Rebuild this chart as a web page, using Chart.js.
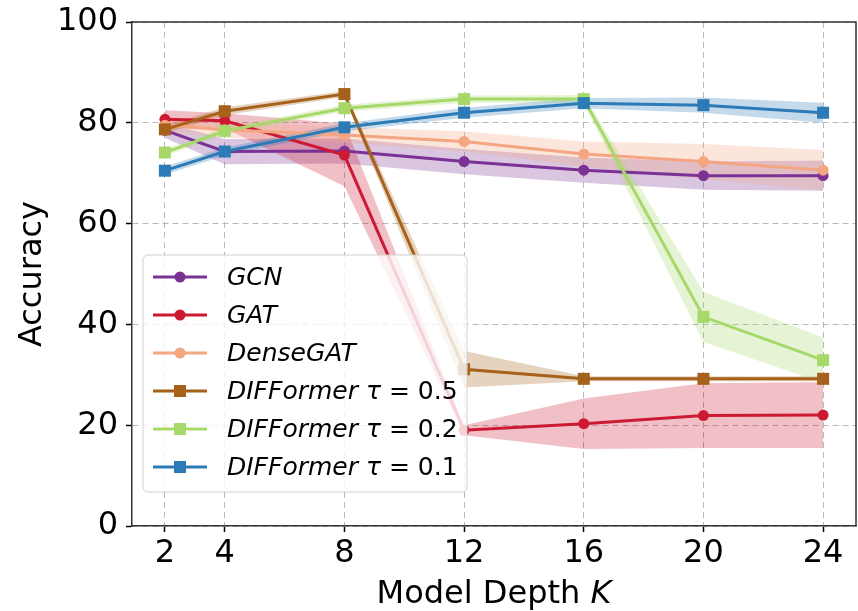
<!DOCTYPE html>
<html>
<head>
<meta charset="utf-8">
<script src="https://cdn.jsdelivr.net/npm/chart.js@4.4.1/dist/chart.umd.min.js"></script>
<style>
  html, body { margin: 0; padding: 0; background: #fff; }
</style>
</head>
<body>
<canvas id="myChart" width="858" height="611"></canvas>
<script>
// data
const depths = [2, 4, 8, 12, 16, 20, 24];
const yTicks = [0, 20, 40, 60, 80, 100];

const gcnMean = [78.5, 74.3, 74.4, 72.3, 70.6, 69.5, 69.5];
const gcnStd = [1.5, 2.5, 2.5, 2.5, 2.5, 2.8, 3.0];

const gatMean = [80.7, 80.4, 73.6, 19.0, 20.3, 21.9, 22.0];
const gatStd = [1.8, 1.5, 6.2, 1.0, 5.0, 6.4, 6.5];

const denseMean = [79.5, 78.6, 77.6, 76.3, 73.8, 72.3, 70.6];
const denseStd = [1.5, 1.5, 1.5, 2.0, 2.5, 3.5, 4.0];

const dif05Mean = [78.7, 82.3, 85.7, 31.1, 29.2, 29.2, 29.2];
const dif05Std = [0.8, 0.8, 0.6, 3.6, 0.5, 0.5, 0.5];

const dif02Mean = [74.1, 78.4, 82.9, 84.7, 84.7, 41.5, 32.9];
const dif02Std = [0.7, 0.7, 0.7, 0.7, 0.8, 5.0, 4.5];

const dif01Mean = [70.5, 74.3, 79.1, 82.0, 83.9, 83.5, 82.0];
const dif01Std = [0.8, 0.8, 0.8, 1.0, 1.0, 1.5, 2.0];

const series = [
    { name: "GCN", mean: gcnMean, std: gcnStd, color: "#7b3294", point: "circle" },
    { name: "GAT", mean: gatMean, std: gatStd, color: "#cc1a33", point: "circle" },
    { name: "DenseGAT", mean: denseMean, std: denseStd, color: "#f4a582", point: "circle" },
    { name: "DIFFormer τ = 0.5", mean: dif05Mean, std: dif05Std, color: "#a6611a", point: "rect" },
    { name: "DIFFormer τ = 0.2", mean: dif02Mean, std: dif02Std, color: "#a6d96a", point: "rect" },
    { name: "DIFFormer τ = 0.1", mean: dif01Mean, std: dif01Std, color: "#2c7bb6", point: "rect" }
];

function withAlpha(hex, a) {
    const n = parseInt(hex.slice(1), 16);
    return "rgba(" + (n >> 16) + "," + ((n >> 8) & 255) + "," + (n & 255) + "," + a + ")";
}

const datasets = [];
series.forEach((s, i) => {
    const ord = 10 - i;
    datasets.push({
        label: s.name + " lower",
        data: depths.map((d, j) => ({ x: d, y: s.mean[j] - s.std[j] })),
        borderColor: "transparent", borderWidth: 0, pointRadius: 0, fill: false, order: ord
    });
    datasets.push({
        label: s.name + " upper",
        data: depths.map((d, j) => ({ x: d, y: s.mean[j] + s.std[j] })),
        borderColor: "transparent", borderWidth: 0, pointRadius: 0,
        fill: "-1", backgroundColor: withAlpha(s.color, 0.28), order: ord
    });
    datasets.push({
        label: s.name,
        data: depths.map((d, j) => ({ x: d, y: s.mean[j] })),
        borderColor: s.color, backgroundColor: s.color, borderWidth: 3,
        pointStyle: s.point, pointRadius: s.point === "rect" ? 8.5 : 5.5,
        pointBorderWidth: 0, fill: false, order: ord
    });
});

const FONT = "'DejaVu Sans', sans-serif";

const decor = {
    id: "decor",
    afterDraw(chart) {
        const { ctx, chartArea: a } = chart;
        ctx.save();
        // top and right spines
        ctx.strokeStyle = "#333";
        ctx.lineWidth = 1.5;
        ctx.beginPath();
        ctx.moveTo(a.left, a.top);
        ctx.lineTo(a.right, a.top);
        ctx.lineTo(a.right, a.bottom);
        ctx.stroke();

        // axis titles
        ctx.fillStyle = "#000";
        ctx.textBaseline = "alphabetic";
        const t1 = "Model Depth ";
        ctx.font = "32px " + FONT;
        const w1 = ctx.measureText(t1).width;
        ctx.font = "italic 32px " + FONT;
        const w2 = ctx.measureText("K").width;
        const x0 = (a.left + a.right) / 2 - (w1 + w2) / 2;
        ctx.textAlign = "left";
        ctx.font = "32px " + FONT;
        ctx.fillText(t1, x0, 603);
        ctx.font = "italic 32px " + FONT;
        ctx.fillText("K", x0 + w1, 603);

        ctx.save();
        ctx.translate(33, (a.top + a.bottom) / 2);
        ctx.rotate(-Math.PI / 2);
        ctx.textAlign = "center";
        ctx.textBaseline = "middle";
        ctx.font = "32px " + FONT;
        ctx.fillText("Accuracy", 0, 0);
        ctx.restore();

        // legend
        const bx = 143, by = 255, bw = 324, bh = 237;
        ctx.beginPath();
        ctx.roundRect(bx, by, bw, bh, 5);
        ctx.fillStyle = "rgba(255,255,255,0.8)";
        ctx.fill();
        ctx.strokeStyle = "#d0d0d0";
        ctx.lineWidth = 1;
        ctx.stroke();

        series.forEach((s, i) => {
            const y = 277 + i * 38;
            ctx.strokeStyle = s.color;
            ctx.lineWidth = 3;
            ctx.beginPath();
            ctx.moveTo(153, y);
            ctx.lineTo(207, y);
            ctx.stroke();
            ctx.fillStyle = s.color;
            if (s.point === "rect") {
                ctx.fillRect(174, y - 6, 12, 12);
            } else {
                ctx.beginPath();
                ctx.arc(180, y, 5.5, 0, Math.PI * 2);
                ctx.fill();
            }
            ctx.fillStyle = "#000";
            ctx.textAlign = "left";
            ctx.textBaseline = "middle";
            const parts = s.name.split(" τ");
            ctx.font = "italic 25px " + FONT;
            let tx = 227;
            ctx.fillText(parts[0], tx, y + 1);
            if (parts.length > 1) {
                tx += ctx.measureText(parts[0] + " ").width;
                ctx.fillText("τ", tx, y + 1);
                tx += ctx.measureText("τ").width;
                ctx.font = "25px " + FONT;
                ctx.fillText(parts[1], tx, y + 1);
            }
        });
        ctx.restore();
    }
};

new Chart(document.getElementById("myChart").getContext("2d"), {
    type: "line",
    data: { datasets: datasets },
    options: {
        responsive: false,
        animation: false,
        layout: { autoPadding: false, padding: { top: 22, right: 2, left: 0, bottom: 0 } },
        plugins: {
            legend: { display: false },
            tooltip: { enabled: false },
            filler: { drawTime: "beforeDatasetsDraw" }
        },
        scales: {
            x: {
                type: "linear",
                min: 0.9,
                max: 25.1,
                afterBuildTicks: (axis) => { axis.ticks = depths.map(v => ({ value: v })); },
                afterFit: (axis) => { axis.height = 85; axis.paddingLeft = 0; axis.paddingRight = 0; },
                ticks: { color: "#000", font: { family: FONT, size: 32 }, padding: 2, autoSkip: false, maxRotation: 0 },
                grid: { color: "#b8b8b8", lineWidth: 1, tickColor: "#000", tickLength: 6, tickWidth: 1.5 },
                border: { color: "#333", width: 1.5, dash: [6, 4] }
            },
            y: {
                min: 0,
                max: 100,
                afterBuildTicks: (axis) => { axis.ticks = yTicks.map(v => ({ value: v })); },
                afterFit: (axis) => { axis.width = 132; axis.paddingTop = 0; axis.paddingBottom = 0; },
                ticks: { color: "#000", font: { family: FONT, size: 32 }, padding: 8 },
                grid: { color: "#b8b8b8", lineWidth: 1, tickColor: "#000", tickLength: 6, tickWidth: 1.5 },
                border: { color: "#333", width: 1.5, dash: [6, 4] }
            }
        }
    },
    plugins: [decor]
});
</script>
</body>
</html>
